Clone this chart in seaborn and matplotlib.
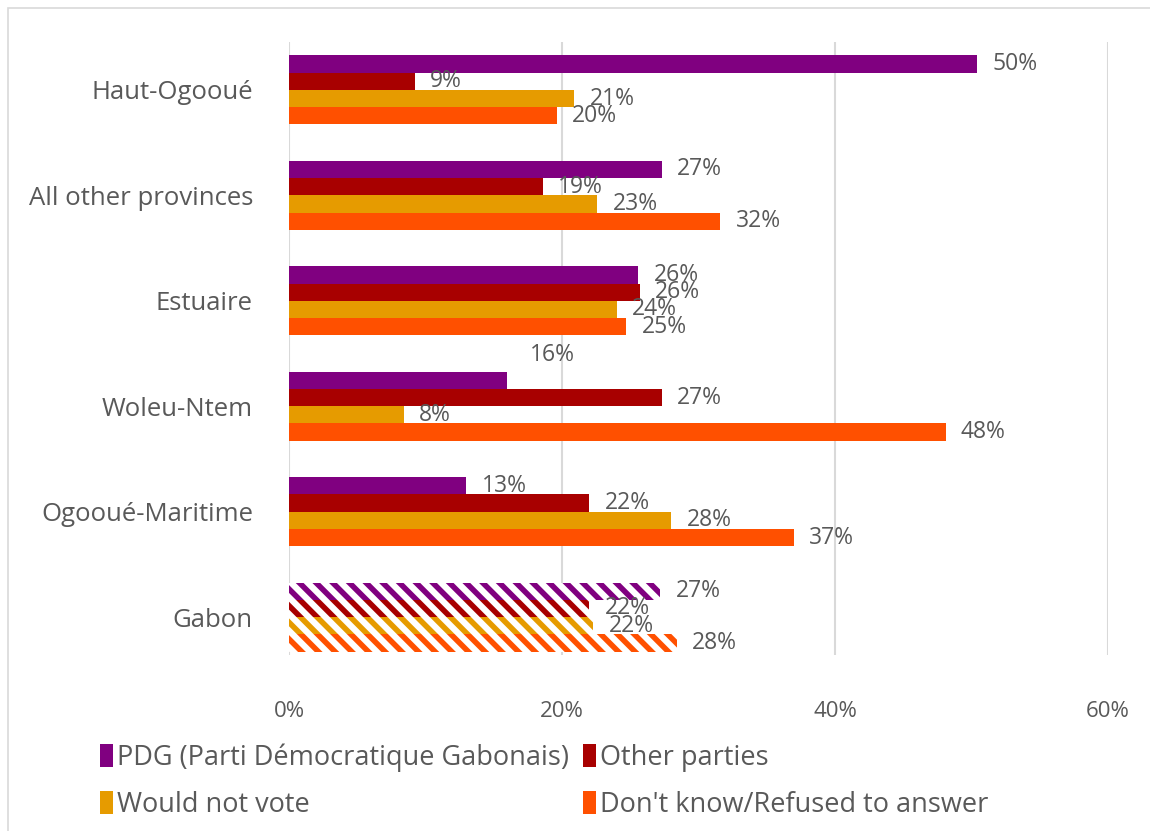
import numpy as np
import pandas as pd
import seaborn as sns
import matplotlib.pyplot as plt
from matplotlib.patches import Patch, Rectangle

regions = ["Haut-Ogooué", "All other provinces", "Estuaire", "Woleu-Ntem",
           "Ogooué-Maritime", "Gabon"]
series = ["PDG (Parti Démocratique Gabonais)", "Other parties",
          "Would not vote", "Don't know/Refused to answer"]
pdg = [50.4, 27.3, 25.6, 16.0, 13.0, 27.2]
other_parties = [9.2, 18.6, 25.7, 27.3, 22.0, 22.0]
would_not_vote = [20.9, 22.6, 24.0, 8.4, 28.0, 22.3]
dont_know = [19.6, 31.6, 24.7, 48.1, 37.0, 28.4]
x_ticks = [0, 20, 40, 60]

colors = ["#800080", "#A80000", "#E69B00", "#FF5000"]
text_color = "#595959"
font = "Open Sans"

sns.set_theme(style="white")
plt.rcParams["font.family"] = [font, "DejaVu Sans"]
plt.rcParams["hatch.linewidth"] = 4.0

df = pd.DataFrame({
    "region": np.repeat(regions, 4),
    "series": series * len(regions),
    "value": np.ravel(np.column_stack([pdg, other_parties, would_not_vote, dont_know])),
})

fig = plt.figure(figsize=(11.5, 8.31), dpi=100)
ax = fig.add_axes([289 / 1150, 1 - 655 / 831, (1108 - 289) / 1150, (655 - 42) / 831])

sns.barplot(data=df, x="value", y="region", hue="series", orient="h",
            order=regions, hue_order=series, palette=colors, saturation=1,
            width=0.655, legend=False, ax=ax, linewidth=0)

# National total drawn with diagonal stripes
for container, col in zip(ax.containers, colors):
    bar = container.patches[len(regions) - 1]
    bar.set_facecolor("white")
    bar.set_edgecolor(col)
    bar.set_hatch("\\\\")
    bar.set_linewidth(0)

# Value labels
label_shift = {("Woleu-Ntem", 0): (16, 18)}
for si, container in enumerate(ax.containers):
    for ri, bar in enumerate(container.patches):
        v = bar.get_width()
        dx, dy = label_shift.get((regions[ri], si), (11, 0))
        ax.annotate(f"{v:.0f}%", xy=(v, bar.get_y() + bar.get_height() / 2),
                    xytext=(dx, dy), textcoords="offset points",
                    ha="left", va="center", fontsize=16.5, color=text_color)

ax.set_xlim(0, 60)
ax.set_ylim(5.36, -0.455)
ax.set_xticks(x_ticks)
ax.set_xticklabels([f"{t}%" for t in x_ticks])
ax.xaxis.grid(True, color="#d9d9d9", linewidth=1.5)
ax.set_axisbelow(True)
for s in ax.spines.values():
    s.set_visible(False)
ax.tick_params(axis="x", length=0, pad=33, labelsize=16, labelcolor=text_color)
ax.tick_params(axis="y", length=0, pad=26, labelsize=18.5, labelcolor=text_color)
ax.set_xlabel("")
ax.set_ylabel("")

# Legend filled column by column: reorder so rows read PDG / Other, then Would not / Don't know
order = [0, 2, 1, 3]
handles = [Patch(facecolor=colors[i], edgecolor="none") for i in order]
labels = [series[i] for i in order]
fig.legend(handles, labels, loc="upper left", bbox_to_anchor=(86 / 1150, 1 - 730 / 831),
           ncol=2, frameon=False, fontsize=19.5, labelcolor=text_color,
           handlelength=0.5, handleheight=0.9, handletextpad=0.15,
           columnspacing=0.5, labelspacing=0.7, borderpad=0)

fig.patches.append(Rectangle((8 / 1150, -0.02), 1.1, 1 - 8 / 831 + 0.02,
                             transform=fig.transFigure, fill=False,
                             edgecolor="#d9d9d9", linewidth=1.2))

fig.savefig("out.png", dpi=100, facecolor="white")
